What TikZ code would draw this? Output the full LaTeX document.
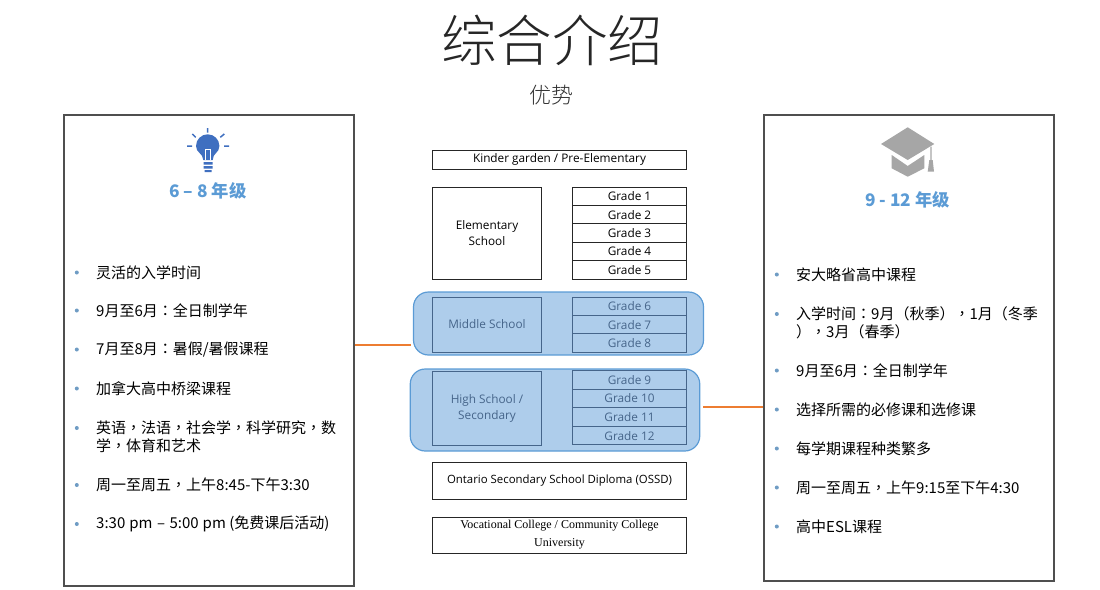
\documentclass[tikz,border=0pt]{standalone}
\usepackage{fontspec}
\setmainfont{Noto Sans CJK SC}
\newfontfamily\lightfont{Noto Sans CJK SC Light}
\newfontfamily\puncfont{Noto Sans CJK TC}
\newfontfamily\gradefont{Open Sans}
\newfontfamily\serffont{Liberation Serif}
\newcommand{\pc}[1]{{\puncfont #1}}
\definecolor{panelgrey}{HTML}{4F4F4F}
\definecolor{headblue}{HTML}{5B9BD5}
\definecolor{dotblue}{HTML}{6F9CC4}
\definecolor{bandfill}{HTML}{AECDEB}
\definecolor{bandtext}{HTML}{46658A}
\definecolor{lineorange}{HTML}{ED7D31}
\definecolor{bulbblue}{HTML}{3F6FC0}
\definecolor{capgrey}{HTML}{A6A6A6}
\tikzset{
	panel/.style={draw=panelgrey, line width=2pt, fill=white, anchor=north west, inner sep=0pt},
	schoolbox/.style={draw=black!85, line width=0.9pt, align=center, inner sep=0pt, font=\gradefont\fontsize{11.8}{16}\selectfont},
	gradebox/.style={schoolbox, minimum width=114.5pt, minimum height=18.4pt},
	bandbox/.style={draw=bandtext, text=bandtext, fill=bandfill},
	band/.style={draw=headblue, fill=bandfill, line width=1.2pt, rounded corners=15pt, inner sep=0pt},
	headtext/.style={text=headblue, font=\bfseries\fontsize{17.3}{20}\selectfont},
	listtext/.style={anchor=west, inner sep=0pt, font=\fontsize{15}{17}\selectfont},
	listitem/.style={listtext, label={[listdot, label distance=17pt]180:{}}},
	listdot/.style={circle, fill=dotblue, inner sep=0pt, minimum size=4pt},
	tie/.style={draw=lineorange, line width=1.8pt}
}
\begin{document}
\begin{tikzpicture}[x=1pt, y=-1pt]
	\useasboundingbox (0,0) rectangle (1100,589);
	
	\node (title) [text=black!85, font=\lightfont\fontsize{55.5}{60}\selectfont] at (552,40) {综合介绍};
	\node (sub) [text=black!80, font=\lightfont\fontsize{22}{24}\selectfont] at (551,95) {优势};
	
	\node (panelL) [panel, minimum width=290pt, minimum height=471pt] at (62.5,113.5) {};
	\node (panelR) [panel, minimum width=290pt, minimum height=466pt] at (762.5,113.5) {};
	
	% bulb
	\fill[bulbblue] (203.3,160) .. controls (203,153) and (196,153) .. (196,146) arc[start angle=180, end angle=360, radius=11.7] .. controls (219.4,153) and (212.7,153) .. (212.7,160) -- cycle;
	\draw[white, line width=0.8pt] (205,160) -- (205,149) -- (210.5,149) -- (210.5,160);
	\fill[bulbblue] (203.5,162) rectangle (212.5,164.5) (203.5,166) rectangle (212.5,168.5) (204.5,170) rectangle (211.5,172);
	\draw[bulbblue, line width=1.5pt] (207.7,128) -- (207.7,132.7) (192.3,134) -- (195.7,137.3) (224.3,134) -- (220.3,137.3) (187,146) -- (192,146) (224,146) -- (229,146);
	
	% cap
	\fill[capgrey] (907.7,127.3) -- (934.3,144) -- (907.7,160) -- (881,144) -- cycle;
	\fill[capgrey] (891.7,155) -- (907.7,166) -- (924.3,155) -- (924.3,168.3) -- (907.7,176.7) -- (891.7,168.3) -- cycle;
	\fill[capgrey] (930.4,146.7) rectangle (931.6,160) (929.3,160) -- (932.7,160) -- (934,171.7) -- (927.7,171.7) -- cycle;
	
	\node (headL) [headtext] at (208,191) {6 – 8 年级};
	\node (headR) [headtext] at (907.5,200) {9 - 12 年级};
	
	\node (l1) [listitem] at (96,272.5) {灵活的入学时间};
	\node (l2) [listitem] at (96,310.5) {9月至6月\pc{：}全日制学年};
	\node (l3) [listitem] at (96,349.5) {7月至8月\pc{：}暑假/暑假课程};
	\node (l4) [listitem] at (96,388.5) {加拿大高中桥梁课程};
	\node (l5) [listitem] at (96,428) {英语\pc{，}法语\pc{，}社会学\pc{，}科学研究\pc{，}数};
	\node (l5b) [listtext] at (96,446) {学\pc{，}体育和艺术};
	\node (l6) [listitem] at (96,485) {周一至周五\pc{，}上午8:45-下午3:30};
	\node (l7) [listitem] at (96,524) {3:30\hspace{4pt}pm\hspace{4.5pt}–\hspace{4.5pt}5:00\hspace{4pt}pm (免费课后活动)};
	
	\node (r1) [listitem] at (796,274.5) {安大略省高中课程};
	\node (r2) [listitem] at (796,314) {入学时间\pc{：}9月\pc{（}秋季\pc{），}1月\pc{（}冬季};
	\node (r2b) [listtext] at (796,332) {\pc{），}3月\pc{（}春季\pc{）}};
	\node (r3) [listitem] at (796,370.5) {9月至6月\pc{：}全日制学年};
	\node (r4) [listitem] at (796,409.5) {选择所需的必修课和选修课};
	\node (r5) [listitem] at (796,448.5) {每学期课程种类繁多};
	\node (r6) [listitem] at (796,487.5) {周一至周五\pc{，}上午9:15至下午4:30};
	\node (r7) [listitem] at (796,526.5) {高中ESL课程};
	
	\node (kinder) [schoolbox, minimum width=254.5pt, minimum height=19pt] at (559.5,159.5) {Kinder garden / Pre-Elementary};
	\node (elem) [schoolbox, minimum width=109.5pt, minimum height=92pt] at (487,233) {Elementary\\School};
	\node (g1) [gradebox] at (629.5,196.2) {Grade 1};
	\node (g2) [gradebox] at (629.5,214.6) {Grade 2};
	\node (g3) [gradebox] at (629.5,233) {Grade 3};
	\node (g4) [gradebox] at (629.5,251.4) {Grade 4};
	\node (g5) [gradebox] at (629.5,269.8) {Grade 5};
	
	\node (bandM) [band, minimum width=290pt, minimum height=63pt] at (558.5,323.5) {};
	\node (middle) [schoolbox, bandbox, minimum width=109.5pt, minimum height=55pt] at (487,324.5) {Middle School};
	\node (g6) [gradebox, bandbox] at (629.5,306.3) {Grade 6};
	\node (g7) [gradebox, bandbox] at (629.5,325) {Grade 7};
	\node (g8) [gradebox, bandbox] at (629.5,343) {Grade 8};
	
	\node (bandH) [band, minimum width=289.5pt, minimum height=82pt] at (555,410) {};
	\node (high) [schoolbox, bandbox, minimum width=109.5pt, minimum height=74pt] at (487,408) {\raisebox{-2pt}{High School /}\\\raisebox{-2pt}{Secondary}};
	\node (g9) [gradebox, bandbox] at (629.5,380) {Grade 9};
	\node (g10) [gradebox, bandbox] at (629.5,398.3) {Grade 10};
	\node (g11) [gradebox, bandbox] at (629.5,417) {Grade 11};
	\node (g12) [gradebox, bandbox] at (629.5,435.7) {Grade 12};
	
	\node (ossd) [schoolbox, minimum width=254.5pt, minimum height=37pt, font=\gradefont\fontsize{11.4}{16}\selectfont] at (559.5,480.5) {Ontario Secondary School Diploma (OSSD)};
	\node (college) [schoolbox, minimum width=254.5pt, minimum height=36pt, font=\serffont\fontsize{12}{18}\selectfont] at (559.5,535) {Vocational College / Community College\\University};
	
	\coordinate (endM) at (411,345);
	\coordinate (startH) at (703,407);
	
	\path[tie]
	(panelL.east |- endM) edge[tie] (endM)
	(startH) edge[tie] (panelR.west |- startH);
	
\end{tikzpicture}
\end{document}
